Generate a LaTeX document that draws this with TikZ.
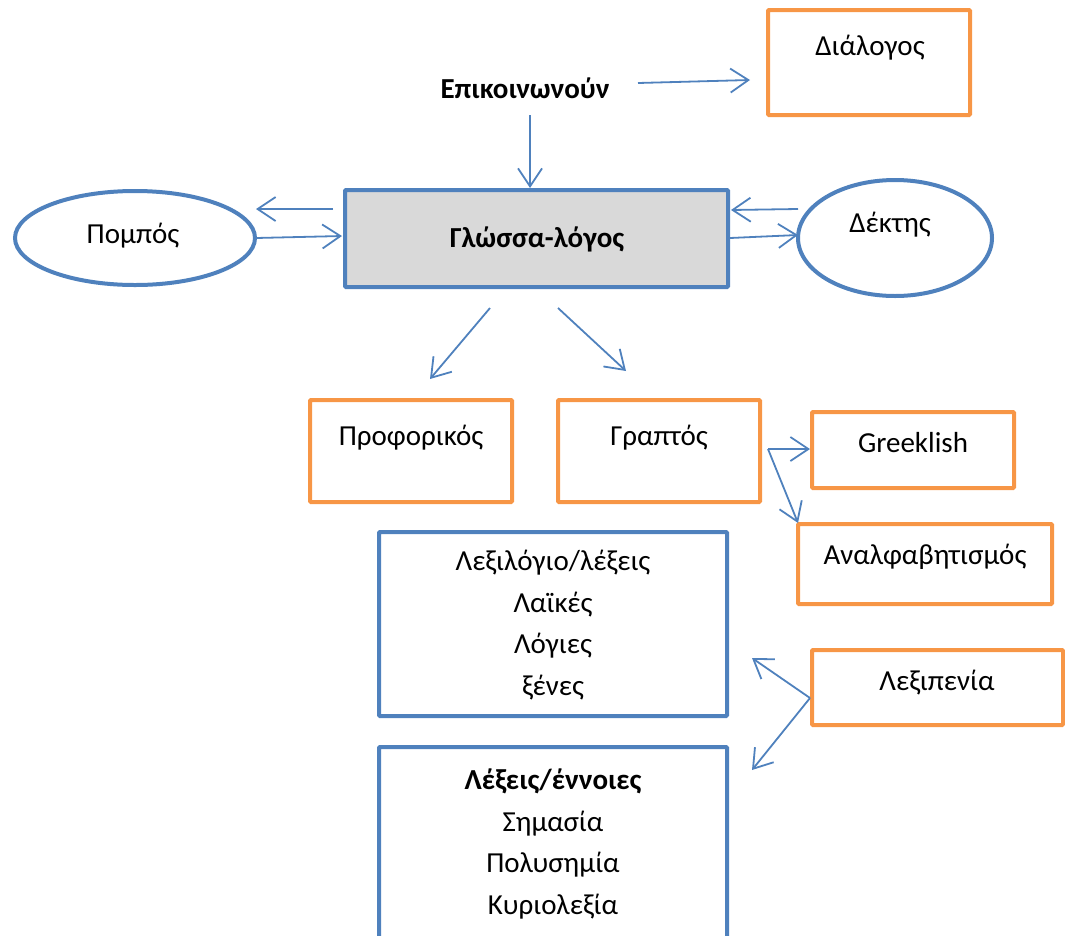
\documentclass[tikz,border=0pt]{standalone}
\usepackage{fontspec}
\setmainfont{Carlito}
\usetikzlibrary{arrows.meta}
\definecolor{obox}{HTML}{F79646}
\definecolor{bbox}{HTML}{4F81BD}
\definecolor{gfill}{HTML}{D9D9D9}
\tikzset{
  orbox/.style={draw=obox,line width=4pt,rounded corners=1pt,inner sep=0pt},
  blbox/.style={draw=bbox,line width=4pt,rounded corners=1pt,inner sep=0pt},
  ell/.style={draw=bbox,line width=4pt},
  txt/.style={font=\fontsize{29}{41.5}\selectfont,inner sep=0pt,align=center},
  btxt/.style={txt,font=\fontsize{29}{41.5}\selectfont\bfseries},
  arr/.style={draw=bbox,line width=1.8pt,-{Straight Barb[length=18pt,width=24pt,line width=1.8pt]}}
}
\begin{document}
\begin{tikzpicture}[x=1pt,y=-1pt]
\useasboundingbox (0,0) rectangle (1065,935);
\clip (0,0) rectangle (1065,935);
% boxes
\path[orbox] (768,10) rectangle (970,115);
\node[txt] (dialogos) at (870,48) {Διάλογος};
\node[btxt] (epik) at (525,88) {Επικοινωνούν};
\path[blbox,fill=gfill] (345,190) rectangle (728,287);
\node[btxt] (glossa) at (537,239) {Γλώσσα-λόγος};
\draw[ell] (135,238) ellipse [x radius=120,y radius=47];
\node[txt] (pompos) at (133,236) {Πομπός};
\draw[ell] (895,238) ellipse [x radius=97,y radius=58];
\node[txt] (dektis) at (890,225) {Δέκτης};
\path[orbox] (310,400) rectangle (512,502);
\node[txt] (profor) at (411,438) {Προφορικός};
\path[orbox] (558,400) rectangle (760,502);
\node[txt] (graptos) at (659,438) {Γραπτός};
\path[orbox] (812,412) rectangle (1014,488);
\node[txt] (greek) at (913,443) {Greeklish};
\path[orbox] (798,524) rectangle (1052,604);
\node[txt] (analf) at (925,557) {Αναλφαβητισμός};
\path[blbox] (379,532) rectangle (727,716);
\node[txt,anchor=north] (lexilogio) at (553,550) {Λεξιλόγιο/λέξεις\\Λαϊκές\\Λόγιες\\ξένες};
\path[orbox] (812,650) rectangle (1063,725);
\node[txt] (lexipenia) at (937,683) {Λεξιπενία};
\path[blbox] (379,747) rectangle (727,960);
\node[txt,anchor=north] (lexeis) at (553,769) {\textbf{Λέξεις/έννοιες}\\Σημασία\\Πολυσημία\\Κυριολεξία};
% connector coordinates
\coordinate (a1s) at (638,83); \coordinate (a1e) at (750,80);
\coordinate (a2s) at (530,115); \coordinate (a2e) at (530,188);
\coordinate (a3s) at (333,209); \coordinate (a3e) at (256,209);
\coordinate (a4s) at (256,238); \coordinate (a4e) at (342,236);
\coordinate (a5s) at (798,209); \coordinate (a5e) at (731,210);
\coordinate (a6s) at (730,238); \coordinate (a6e) at (798,235);
\coordinate (a7s) at (490,308); \coordinate (a7e) at (430,379);
\coordinate (a8s) at (558,308); \coordinate (a8e) at (626,371);
\coordinate (a9s) at (768,449); \coordinate (a9e) at (810,449);
\coordinate (a10e) at (798,523);
\coordinate (a11s) at (810,698); \coordinate (a11e) at (752,658);
\coordinate (a12e) at (752,770);
% connectors
\draw[arr] (a1s) -- (a1e);
\draw[arr] (a2s) -- (a2e);
\draw[arr] (a3s) -- (a3e);
\draw[arr] (a4s) -- (a4e);
\draw[arr] (a5s) -- (a5e);
\draw[arr] (a6s) -- (a6e);
\draw[arr] (a7s) -- (a7e);
\draw[arr] (a8s) -- (a8e);
\draw[arr] (a9s) -- (a9e);
\draw[arr] (a9s) -- (a10e);
\draw[arr] (a11s) -- (a11e);
\draw[arr] (a11s) -- (a12e);
\end{tikzpicture}
\end{document}
